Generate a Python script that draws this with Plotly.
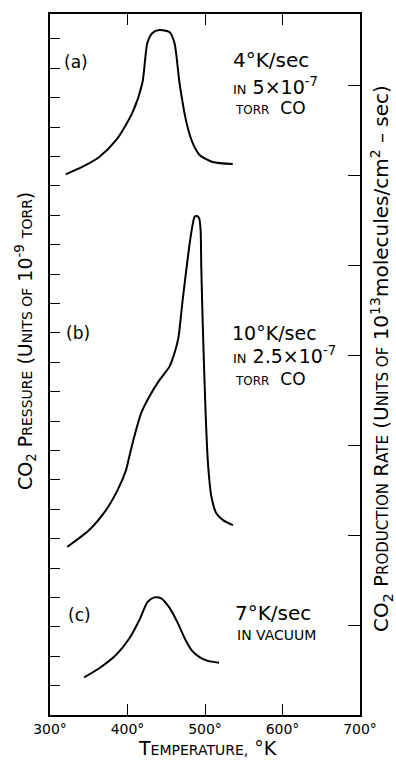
import plotly.graph_objects as go

# ---------------- data (temperature in deg K, CO2 pressure in 1e-9 torr units) -----------
temp_a = [320.3, 341.5, 363.5, 385.5, 406.2, 419.2, 425.6, 432.1, 441.2, 454.1,
          460.6, 467.1, 476.2, 484.0, 493.0, 509.8, 535.8]
pres_a = [18.39, 18.64, 18.98, 19.56, 20.48, 21.50, 22.86, 23.20, 23.30, 23.23,
          22.86, 21.50, 20.14, 19.46, 19.05, 18.81, 18.74]

temp_b = [322.4, 350.5, 372.2, 387.2, 398.1, 402.3, 408.8, 417.5, 428.2, 441.2,
          454.1, 460.6, 465.6, 471.2, 479.1, 484.0, 486.5, 489.5, 492.4,
          494.3, 495.2, 497.3, 500.8, 503.8, 508.2, 514.6, 523.2, 536.1]
pres_b = [5.72, 6.29, 6.97, 7.65, 8.33, 8.79, 9.47, 10.26, 10.83, 11.39,
          11.85, 12.31, 12.82, 14.12, 15.82, 16.67, 16.94, 16.97, 16.90,
          16.50, 15.24, 13.10, 10.27, 8.57, 7.43, 6.86, 6.63, 6.46]

temp_c = [344.0, 363.5, 385.1, 402.3, 415.3, 426.0, 434.7, 443.4, 454.1, 464.3,
          474.9, 482.6, 493.0, 503.4, 518.0]
pres_c = [1.28, 1.59, 2.04, 2.60, 3.23, 3.85, 4.00, 3.97, 3.65, 3.16,
          2.55, 2.21, 1.97, 1.84, 1.78]

x_tick_vals = [300, 400, 500, 600, 700]
x_tick_text = ["300°", "400°", "500°", "600°", "700°"]

# ---------------- layout geometry -----------------
W, H = 396, 761
ML, MR, MT, MB = 50, 36, 14, 46
PW, PH = W - ML - MR, H - MT - MB


def xp(px):
    return (px - ML) / PW


def yp(py):
    return (H - MB - py) / PH


FONT = "DejaVu Sans"
SC = "<span style='font-size:{}px'>{}</span>"

fig = go.Figure()
for tx, ty in [(temp_a, pres_a), (temp_b, pres_b), (temp_c, pres_c)]:
    fig.add_trace(go.Scatter(x=tx, y=ty, mode="lines",
                             line=dict(color="black", width=2, shape="spline", smoothing=0.7),
                             showlegend=False, hoverinfo="skip"))
# invisible trace on right axis so it is drawn
fig.add_trace(go.Scatter(x=[None], y=[None], yaxis="y2", mode="lines", showlegend=False))

fig.update_layout(
    width=W, height=H,
    margin=dict(l=ML, r=MR, t=MT, b=MB),
    paper_bgcolor="white", plot_bgcolor="white",
    font=dict(family=FONT, color="black", size=14),
    xaxis=dict(range=[300, 700], tickvals=x_tick_vals, ticktext=x_tick_text,
               ticks="inside", ticklen=11, tickwidth=1.3, tickcolor="black",
               showline=True, linecolor="black", linewidth=1.5, mirror="ticks",
               showgrid=False, zeroline=False, tickfont=dict(size=14, family=FONT)),
    yaxis=dict(range=[0, PH / 29.4], tick0=0, dtick=1, ticks="inside", ticklen=10,
               tickwidth=1.2, tickcolor="black", showticklabels=False,
               showline=True, linecolor="black", linewidth=1.5,
               showgrid=False, zeroline=False),
    yaxis2=dict(range=[0, PH / 89.9], tick0=0, dtick=1, ticks="inside", ticklen=12,
                tickwidth=1.3, tickcolor="black", showticklabels=False,
                overlaying="y", side="right",
                showline=True, linecolor="black", linewidth=1.5,
                showgrid=False, zeroline=False),
)

ann = []


def add(text, px, py, size=17, xanchor="left", angle=0):
    ann.append(dict(text=text, x=xp(px), y=yp(py), xref="paper", yref="paper",
                    showarrow=False, xanchor=xanchor, yanchor="middle",
                    align="left" if xanchor == "left" else "center",
                    borderpad=0,
                    textangle=angle, font=dict(size=size, family=FONT, color="black")))


# panel labels
add("(a)", 63, 62, 17)
add("(b)", 65, 333, 17)
add("(c)", 67, 615, 17)

# conditions
add("4°K/sec", 232, 60, 20)
add(SC.format(13, "IN") + " 5×10<sup>-7</sup>", 232, 86, 19)
add(SC.format(12, "TORR") + "  CO", 234, 108, 17)

add("10°K/sec", 231, 333, 19)
add(SC.format(13, "IN") + " 2.5×10<sup>-7</sup>", 232, 355, 19)
add(SC.format(12, "TORR") + "  CO", 234, 379, 17)

add("7°K/sec", 234, 613, 20)
add(SC.format(14, "IN VACUUM"), 236, 635, 14)

# axis titles
add("T" + SC.format(14, "EMPERATURE,") + " °K", 207, 748, 19, xanchor="center")
add("CO<sub>2</sub> P" + SC.format(14, "RESSURE") + " (U" + SC.format(14, "NITS OF") +
    " 10<sup>-9</sup> " + SC.format(14, "TORR") + ")", 25, 341, 19, xanchor="center", angle=-90)
add("CO<sub>2</sub> P" + SC.format(15, "RODUCTION") + " R" + SC.format(15, "ATE") +
    " (U" + SC.format(15, "NITS OF") + " 10<sup>13</sup>molecules/cm<sup>2</sup> – sec)",
    381, 358, 20, xanchor="center", angle=-90)

fig.update_layout(annotations=ann)
fig.write_html("out.html")
